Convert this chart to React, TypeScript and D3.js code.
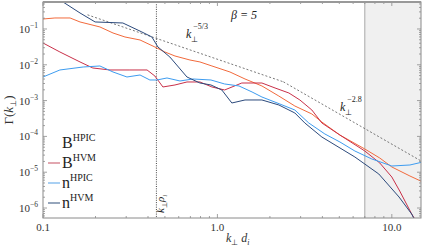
import React from 'react';
import * as d3 from 'd3';

const W = 424;
const H = 248;
const plot = { left: 43, top: 2, right: 421, bottom: 218 };

// spectra: [k_perp d_i, value]
const bHpic: [number, number][] = [
  [0.1, 0.19], [0.117, 0.203], [0.143, 0.203], [0.163, 0.157], [0.212, 0.114],
  [0.252, 0.0773], [0.295, 0.0598], [0.36, 0.0493], [0.438, 0.0314], [0.5, 0.0228],
  [0.571, 0.0176], [0.696, 0.0136], [0.794, 0.012], [0.93, 0.00926], [1.18, 0.0063],
  [1.44, 0.00401], [1.8, 0.00256], [2.25, 0.00134], [2.78, 0.000706], [3.48, 0.000423],
  [3.97, 0.000252], [5.04, 0.000109], [7.0, 4.45e-5], [8.53, 2.49e-5], [10, 1.4e-5],
  [12.7, 7.83e-6], [15.06, 5.32e-6],
];
const bHvm: [number, number][] = [
  [0.1, 0.0406], [0.125, 0.0228], [0.163, 0.012], [0.193, 0.00814], [0.242, 0.00716],
  [0.315, 0.00716], [0.395, 0.00716], [0.438, 0.00486], [0.487, 0.0024], [0.571, 0.00273],
  [0.669, 0.00331], [0.794, 0.00331], [0.93, 0.0024], [1.1, 0.00198], [1.38, 0.0031],
  [1.8, 0.0031], [2.14, 0.00225], [2.57, 0.00163], [2.97, 0.00104], [3.48, 0.000546],
  [3.97, 0.000237], [5.04, 0.000109], [7.0, 3.91e-5], [8.53, 1.81e-5], [10, 7.34e-6],
  [11.1, 2.98e-6], [13.0, 6.79e-7], [13.9, 4.06e-7],
];
const nHpic: [number, number][] = [
  [0.1, 0.00456], [0.125, 0.00716], [0.17, 0.00868], [0.212, 0.00926], [0.252, 0.0063],
  [0.303, 0.00456], [0.36, 0.00519], [0.41, 0.00376], [0.45, 0.00376], [0.514, 0.00428],
  [0.61, 0.00353], [0.724, 0.00401], [0.918, 0.00376], [1.1, 0.00291], [1.33, 0.00256],
  [1.58, 0.00174], [1.8, 0.00126], [2.28, 0.000804], [2.78, 0.000546], [3.34, 0.000237],
  [4.13, 0.000117], [5.04, 6.98e-5], [6.14, 3.91e-5], [7.68, 2.34e-5], [10, 1.49e-5],
  [12.7, 1.59e-5], [15.06, 1.93e-5],
];
const nHvm: [number, number][] = [
  [0.1, 1.31], [0.125, 0.646], [0.163, 0.28], [0.199, 0.157], [0.287, 0.147],
  [0.369, 0.0824], [0.421, 0.0598], [0.456, 0.0314], [0.534, 0.0165], [0.669, 0.00456],
  [0.794, 0.0031], [0.918, 0.00273], [1.06, 0.00198], [1.21, 0.000857], [1.44, 0.00104],
  [1.8, 0.00104], [2.25, 0.000754], [2.78, 0.000451], [3.17, 0.000237], [3.97, 9.62e-5],
  [6.14, 2.66e-5], [8.42, 8.91e-6], [11.0, 2.03e-6], [13.0, 6.79e-7], [13.7, 4.06e-7],
];
const fitInertial: [number, number][] = [[0.18, 0.2485], [2.39, 0.00334]];
const fitKinetic: [number, number][] = [[2.39, 0.00334], [15.06, 1.93e-5]];

const series = [
  { name: 'HPIC', base: 'B', data: bHpic, color: '#f26a3c', legend: null },
  { name: 'HVM', base: 'B', data: bHvm, color: '#c93049', legend: '#d98a96' },
  { name: 'HPIC', base: 'n', data: nHpic, color: '#3d9cf0', legend: '#8cc0ef' },
  { name: 'HVM', base: 'n', data: nHvm, color: '#2c4a7c', legend: '#7388a6' },
];

const xMajor = [0.1, 1, 10];
const xMajorLabels = ['0.1', '1.0', '10.0'];
const yExponents = [-1, -2, -3, -4, -5, -6];
const kRhoI = 0.447;
const kShadeStart = 7;

const x = d3.scaleLog().domain([0.1, 14.7]).range([plot.left, plot.right]);
const y = d3.scaleLog().domain([5.26e-7, 0.567]).range([plot.bottom, plot.top]);
const line = d3.line<[number, number]>().x(d => x(d[0])).y(d => y(d[1]));

const xMinor: number[] = [];
for (const dec of [0.1, 1, 10]) for (let m = 2; m <= 9; m++) {
  const v = dec * m;
  if (v < 14.7) xMinor.push(v);
}
const yMinor: number[] = [];
for (let e = -7; e <= -1; e++) for (let m = 2; m <= 9; m++) {
  const v = m * Math.pow(10, e);
  if (v > 5.26e-7 && v < 0.567) yMinor.push(v);
}

const axisColor = '#8a8a8a';
const font = "'Liberation Serif', 'Times New Roman', serif";

function PowerLabel({ px, py, exp }: { px: number; py: number; exp: string }) {
  return (
    <text x={px} y={py} fontSize={12} fontStyle="italic" fill="#222">
      k<tspan dx={0} dy={4} fontSize={8} fontStyle="normal">⊥</tspan>
      <tspan dx={-5} dy={-13} fontSize={8} fontStyle="normal">{exp}</tspan>
    </text>
  );
}

export default function App() {
  return (
    <svg width={W} height={H} style={{ position: 'absolute', left: 0, top: 0, background: '#fff', fontFamily: font }}>
      <defs>
        <clipPath id="plotClip">
          <rect x={plot.left} y={plot.top} width={plot.right - plot.left} height={plot.bottom - plot.top} />
        </clipPath>
      </defs>
      <rect x={x(kShadeStart)} y={plot.top} width={plot.right - x(kShadeStart)} height={plot.bottom - plot.top} fill="#f0f0f0" />
      <line x1={x(kShadeStart)} x2={x(kShadeStart)} y1={plot.top} y2={plot.bottom} stroke="#a8a8a8" strokeWidth={1} />
      <line x1={x(kRhoI)} x2={x(kRhoI)} y1={plot.top} y2={plot.bottom} stroke="#333" strokeWidth={0.9} strokeDasharray="1,1.3" />

      <g clipPath="url(#plotClip)" fill="none">
        {[fitInertial, fitKinetic].map((d, i) => (
          <path key={'fit' + i} d={line(d) ?? ''} stroke="#555" strokeWidth={0.8} strokeDasharray="2,2" />
        ))}
        {series.map((s, i) => (
          <path key={i} d={line(s.data) ?? ''} stroke={s.color} strokeWidth={1} />
        ))}
      </g>

      {/* ticks, inside on all four sides */}
      <g stroke={axisColor} strokeWidth={0.8}>
        {xMajor.map(v => (
          <g key={'xM' + v}>
            <line x1={x(v)} x2={x(v)} y1={plot.bottom} y2={plot.bottom - 4} />
            <line x1={x(v)} x2={x(v)} y1={plot.top} y2={plot.top + 4} />
          </g>
        ))}
        {xMinor.map(v => (
          <g key={'xm' + v}>
            <line x1={x(v)} x2={x(v)} y1={plot.bottom} y2={plot.bottom - 2} />
            <line x1={x(v)} x2={x(v)} y1={plot.top} y2={plot.top + 2} />
          </g>
        ))}
        {yExponents.map(e => (
          <g key={'yM' + e}>
            <line x1={plot.left} x2={plot.left + 4} y1={y(Math.pow(10, e))} y2={y(Math.pow(10, e))} />
            <line x1={plot.right} x2={plot.right - 4} y1={y(Math.pow(10, e))} y2={y(Math.pow(10, e))} />
          </g>
        ))}
        {yMinor.map(v => (
          <g key={'ym' + v}>
            <line x1={plot.left} x2={plot.left + 2} y1={y(v)} y2={y(v)} />
            <line x1={plot.right} x2={plot.right - 2} y1={y(v)} y2={y(v)} />
          </g>
        ))}
      </g>
      <rect x={plot.left} y={plot.top} width={plot.right - plot.left} height={plot.bottom - plot.top} fill="none" stroke={axisColor} strokeWidth={1} />
      <line x1={plot.left} x2={plot.right} y1={plot.top} y2={plot.top} stroke="#999" strokeWidth={2} />

      {/* tick labels */}
      <g fill="#333" fontSize={11}>
        {xMajor.map((v, i) => (
          <text key={'xl' + v} x={x(v)} y={231} textAnchor="middle">{xMajorLabels[i]}</text>
        ))}
        {yExponents.map(e => (
          <text key={'yl' + e} x={38} y={y(Math.pow(10, e)) + 4} textAnchor="end">
            10<tspan dy={-5} fontSize={7.5}>{'\u2212' + Math.abs(e)}</tspan>
          </text>
        ))}
      </g>

      {/* axis titles */}
      <text x={226} y={242} fontSize={12} fill="#333" fontStyle="italic">
        k<tspan dy={3} fontSize={8} fontStyle="normal">⊥</tspan><tspan dy={-3}> d</tspan><tspan dy={3} fontSize={8}>i</tspan>
      </text>
      <text transform="translate(13,110) rotate(-90)" textAnchor="middle" fontSize={13} fill="#333">
        Γ(<tspan fontStyle="italic">k</tspan><tspan dy={3} fontSize={8}>⊥</tspan><tspan dy={-3}>)</tspan>
      </text>

      {/* annotations */}
      <text x={231} y={19} fontSize={12} fontStyle="italic" fill="#222">β = 5</text>
      <PowerLabel px={186} py={38} exp="−5/3" />
      <PowerLabel px={340} py={111} exp="−2.8" />
      <text transform={`translate(${x(kRhoI) + 8},213) rotate(-90)`} fontSize={11} fontStyle="italic" fill="#222">
        k<tspan dy={3} fontSize={7} fontStyle="normal">⊥</tspan><tspan dy={-3}>ρ</tspan><tspan dy={3} fontSize={7}>i</tspan>
      </text>

      {/* legend */}
      {series.map((s, i) => {
        const ly = 143 + i * 20;
        return (
          <g key={'lg' + i}>
            {s.legend && <line x1={48} x2={60} y1={ly} y2={ly} stroke={s.legend} strokeWidth={1.5} />}
            <text x={62} y={ly + 5} fontSize={16} fill="#222">
              {s.base}<tspan dy={-7} fontSize={10}>{s.name}</tspan>
            </text>
          </g>
        );
      })}
    </svg>
  );
}
